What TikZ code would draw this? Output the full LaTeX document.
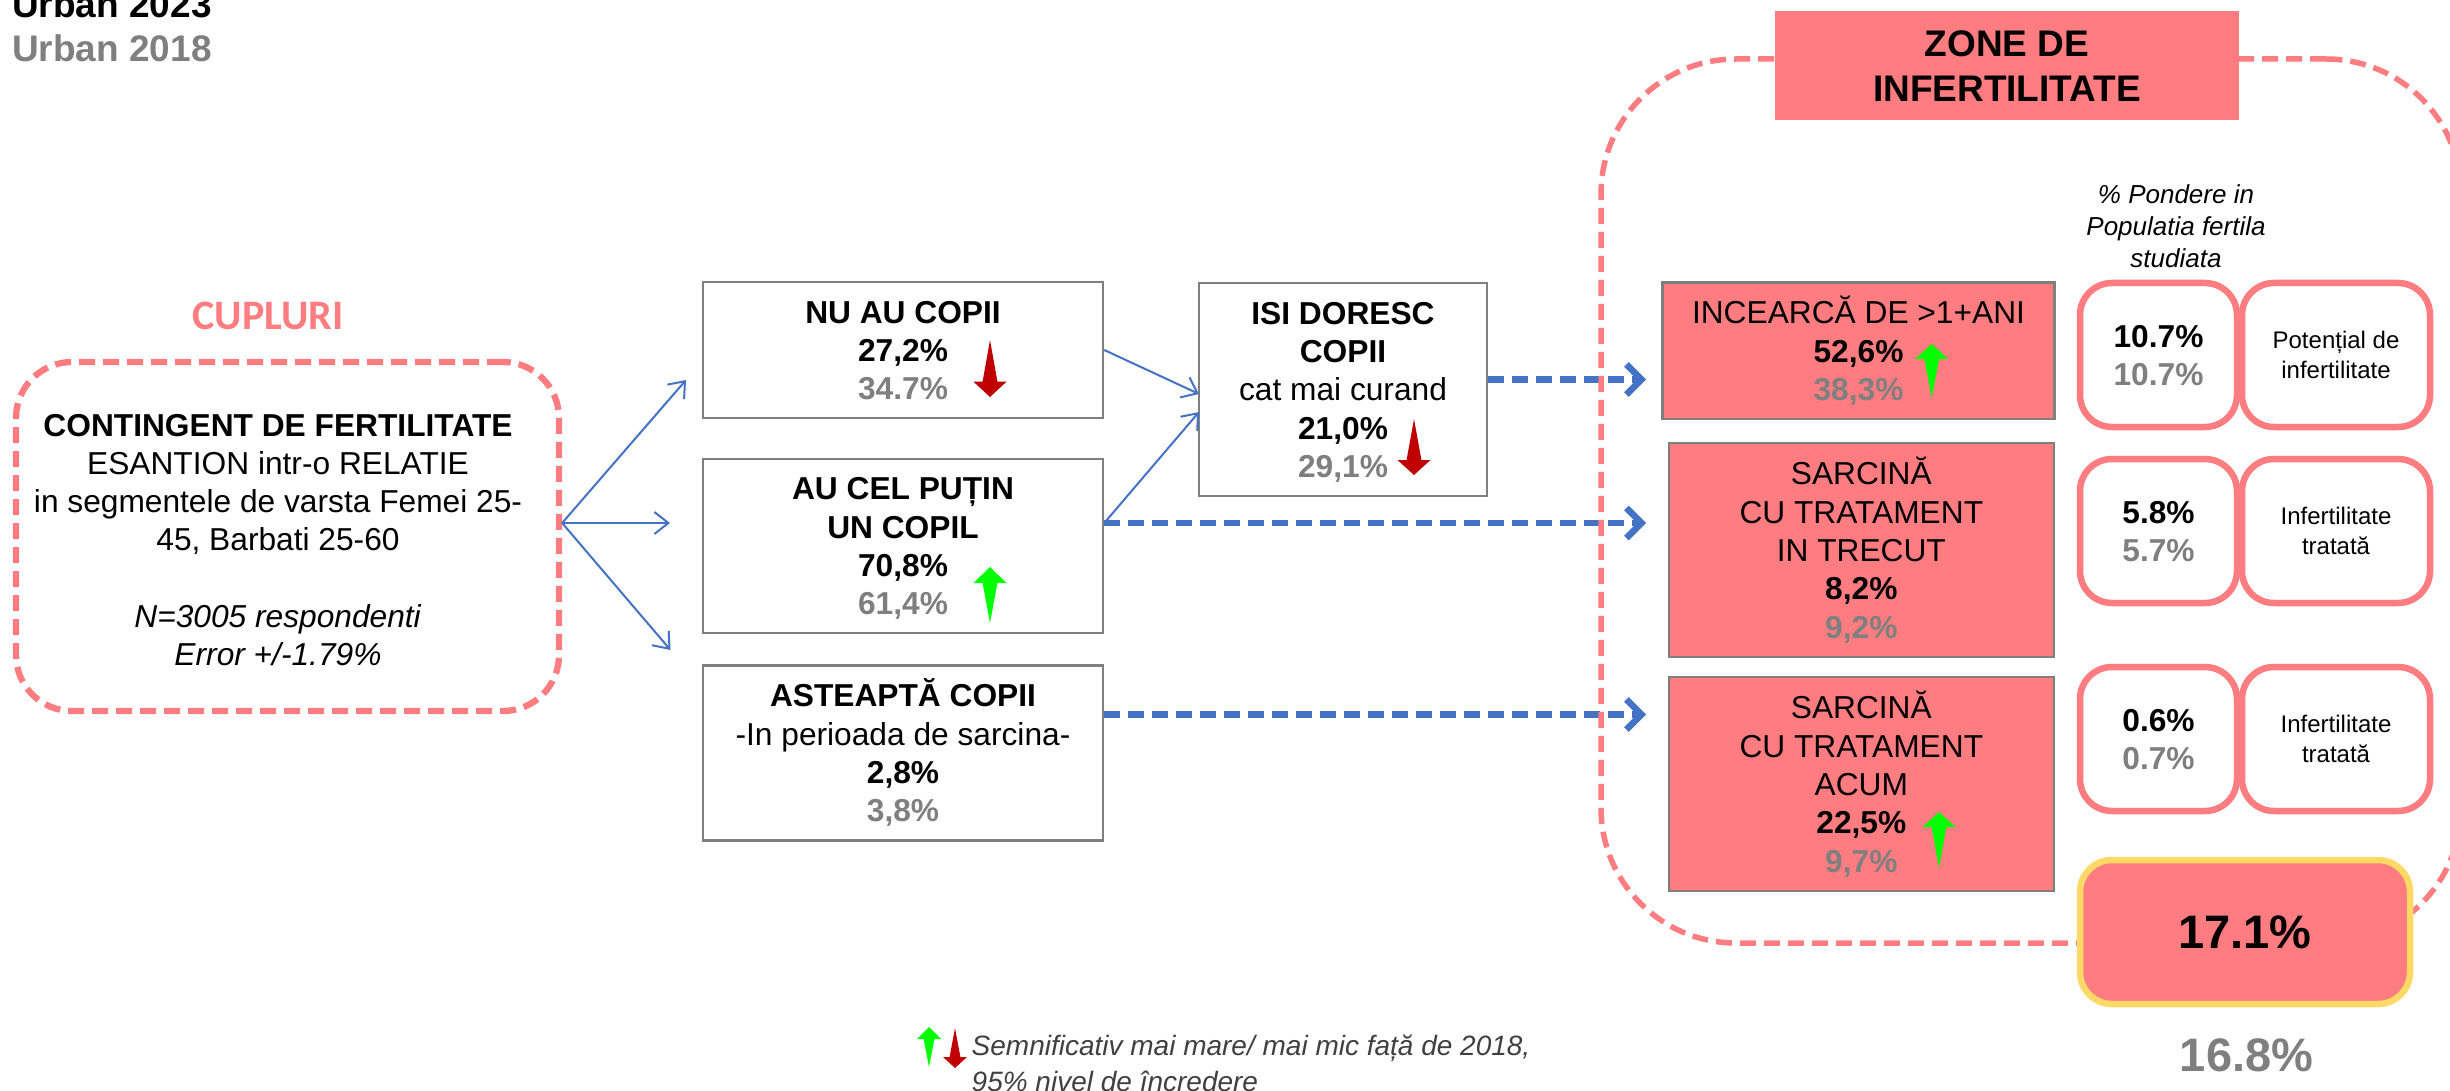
\documentclass[tikz,border=0pt]{standalone}
\usepackage{fontspec}
\setmainfont{Liberation Sans}
\newfontfamily\carlitofont{Carlito}
\usetikzlibrary{arrows.meta}
\definecolor{pinkc}{HTML}{FF7C80}
\definecolor{grayc}{HTML}{7F7F7F}
\definecolor{bluec}{HTML}{4472C4}
\definecolor{redc}{HTML}{C00000}
\definecolor{greenc}{HTML}{00FF00}
\definecolor{yellowc}{HTML}{FFD966}
\definecolor{darkc}{HTML}{404040}
\newcommand\vs{\vrule height 0.96em depth 0.24em width 0pt\relax}
\newcommand\gr[1]{\textcolor{grayc}{\textbf{#1}}}
% colour, x, tail end, head base, head tip, half width
\newcommand\signmark[6]{\fill[#1] (#2,#3) -- (#2+#6*0.45,#4) -- (#2+#6,#4) -- (#2,#5) -- (#2-#6,#4) -- (#2-#6*0.45,#4) -- cycle;}
\tikzset{
  base32/.style={font=\fontsize{31.7}{38.3}\selectfont, align=center, inner sep=0pt},
  whitebox/.style={base32, draw=grayc, line width=2.5pt, fill=white},
  pinkbox/.style={base32, draw=grayc, line width=2.5pt, fill=pinkc},
  dashpink/.style={draw=pinkc, line width=5.5pt, dash pattern=on 16pt off 8pt},
  rowbox/.style={base32, draw=pinkc, line width=6.5pt, fill=white, rounded corners=32pt},
  rowtxt/.style={rowbox, font=\fontsize{24}{30}\selectfont},
  thinarrow/.style={draw=bluec, line width=2pt, -{Straight Barb[length=14pt,width=22pt]}},
  thickarrow/.style={draw=bluec, line width=6.5pt, dash pattern=on 16pt off 8pt, -{Straight Barb[length=15pt,width=30pt]}},
  plaintxt/.style={inner sep=0pt, align=center}
}
\begin{document}
\begin{tikzpicture}[x=1pt,y=-1pt]
\clip (0,0) rectangle (2450,1091);
\fill[white] (0,0) rectangle (2450,1091);

\node[plaintxt, anchor=base west, font=\fontsize{37}{43}\selectfont\bfseries] (u23) at (12,18) {Urban 2023};
\node[plaintxt, anchor=base west, font=\fontsize{37}{43}\selectfont\bfseries, text=grayc] (u18) at (12,62) {Urban 2018};
\node[plaintxt, text=pinkc, font=\fontsize{42}{50}\selectfont\carlitofont\bfseries] (cup) at (268,316) {CUPLURI};

\node[dashpink, line width=6.3pt, rounded corners=56pt, minimum width=543pt, minimum height=349pt, inner sep=0pt] (cont) at (287.5,536.5) {};
\node[base32] (conttxt) at (278,539.5)
 {\vs\textbf{CONTINGENT DE FERTILITATE}\\ESANTION intr-o RELATIE\\in segmentele de varsta Femei 25-\\45, Barbati 25-60\\[38.3pt]\textit{N=3005 respondenti}\\\vs\textit{Error +/-1.79\%}};

\node[whitebox, minimum width=400pt, minimum height=136pt] (nu) at (903,350)
 {\vs\textbf{NU AU COPII}\\\textbf{27,2\%}\\\vs\gr{34.7\%}};
\node[whitebox, minimum width=400pt, minimum height=174pt] (au) at (903,546)
 {\vs\textbf{AU CEL PUȚIN}\\\textbf{UN COPIL}\\\textbf{70,8\%}\\\vs\gr{61,4\%}};
\node[whitebox, minimum width=400pt, minimum height=175pt] (ast) at (903,753)
 {\vs\textbf{ASTEAPTĂ COPII}\\-In perioada de sarcina-\\\textbf{2,8\%}\\\vs\gr{3,8\%}};
\node[whitebox, minimum width=288pt, minimum height=213pt] (isi) at (1343,389.5)
 {\vs\textbf{ISI DORESC}\\\textbf{COPII}\\cat mai curand\\\textbf{21,0\%}\\\vs\gr{29,1\%}};

\coordinate (t1) at (686,380);
\coordinate (t2) at (670,523);
\coordinate (t3) at (670.5,650);
\draw[thinarrow] (cont.east |- t2) -- (t1);
\draw[thinarrow] (cont.east |- t2) -- (t2);
\draw[thinarrow] (cont.east |- t2) -- (t3);

\coordinate (isiA) at (1199,394);
\coordinate (isiB) at (1199,412);
\coordinate (e1) at (1646,379.5);
\coordinate (e2) at (1646,523);
\coordinate (e3) at (1646,714.5);
\draw[thinarrow] (nu.east) -- (isiA);
\draw[thinarrow] (au.east |- e2) -- (isiB);
\draw[thickarrow] (isi.east |- e1) -- (e1);
\draw[thickarrow] (au.east |- e2) -- (e2);
\draw[thickarrow] (ast.east |- e3) -- (e3);

\node[dashpink, rounded corners=135pt, minimum width=860pt, minimum height=884pt, inner sep=0pt] (zone) at (2031,501) {};

\node[plaintxt, fill=pinkc, minimum width=464pt, minimum height=109pt, font=\fontsize{37}{45}\selectfont\bfseries] (ztitle) at (2007,66)
 {\vs ZONE DE\\\vs INFERTILITATE};

\node[pinkbox, minimum width=392pt, minimum height=136.5pt] (p1) at (1858.5,350.7)
 {\vs INCEARCĂ DE >1+ANI\\\textbf{52,6\%}\\\vs\gr{38,3\%}};
\node[pinkbox, minimum width=385pt, minimum height=214pt] (p2) at (1861.3,550)
 {\vs SARCINĂ\\CU TRATAMENT\\IN TRECUT\\\textbf{8,2\%}\\\vs\gr{9,2\%}};
\node[pinkbox, minimum width=385pt, minimum height=214pt] (p3) at (1861.3,784)
 {\vs SARCINĂ\\CU TRATAMENT\\ACUM\\\textbf{22,5\%}\\\vs\gr{9,7\%}};

\node[plaintxt, font=\fontsize{26}{32}\selectfont\itshape] (pond) at (2176,226)
 {\vs\% Pondere in\\Populatia fertila\\\vs studiata};

\node[rowbox, minimum width=157pt, minimum height=144pt] (r1a) at (2158.5,355) {\vs\textbf{10.7\%}\\\vs\gr{10.7\%}};
\node[rowtxt, minimum width=188pt, minimum height=144pt] (r1b) at (2336,355) {\vs Potențial de\\\vs infertilitate};
\node[rowbox, minimum width=157pt, minimum height=144pt] (r2a) at (2158.5,531) {\vs\textbf{5.8\%}\\\vs\gr{5.7\%}};
\node[rowtxt, minimum width=188pt, minimum height=144pt] (r2b) at (2336,531) {\vs Infertilitate\\\vs tratată};
\node[rowbox, minimum width=157pt, minimum height=144pt] (r3a) at (2158.5,739) {\vs\textbf{0.6\%}\\\vs\gr{0.7\%}};
\node[rowtxt, minimum width=188pt, minimum height=144pt] (r3b) at (2336,739) {\vs Infertilitate\\\vs tratată};

\node[base32, draw=yellowc, fill=pinkc, line width=6.5pt, rounded corners=32pt, minimum width=330pt, minimum height=144pt, font=\fontsize{47}{56}\selectfont\bfseries] (tot) at (2245,932) {\vs 17.1\%};
\node[plaintxt, text=grayc, font=\fontsize{47}{56}\selectfont\bfseries] (old) at (2246.5,1055) {\vs 16.8\%};

\signmark{redc}{990}{340}{381.7}{397}{16.5}
\signmark{greenc}{990}{623}{583}{567}{16.5}
\signmark{redc}{1414}{419}{460}{475}{16.5}
\signmark{greenc}{1931.7}{398}{359}{344}{16.5}
\signmark{greenc}{1939}{868}{827}{812}{16.5}
\signmark{greenc}{929}{1067}{1039}{1027}{12}
\signmark{redc}{955}{1028}{1057}{1068}{12}

\node[anchor=west, inner sep=0pt, align=left, text=darkc, font=\fontsize{28}{36}\selectfont\itshape] (leg) at (971.5,1063)
 {\vs Semnificativ mai mare/ mai mic față de 2018,\\\vs 95\% nivel de încredere};
\end{tikzpicture}
\end{document}
